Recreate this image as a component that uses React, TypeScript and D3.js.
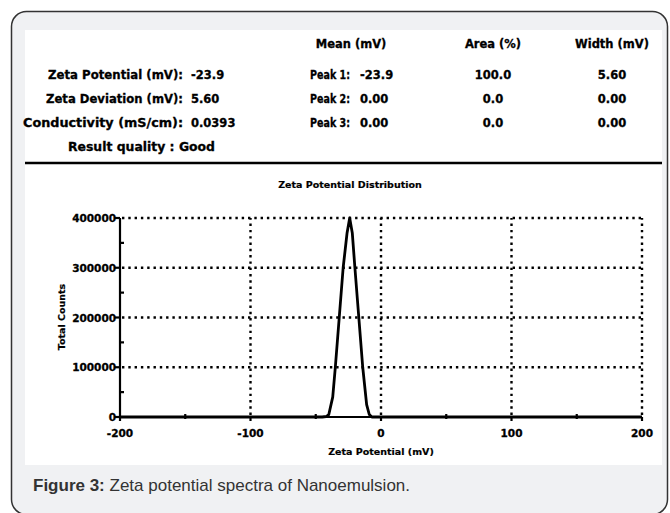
import React from "react";
import * as d3 from "d3";

// ---- Data ----
const zetaMv = [-200, -45, -42, -40, -37, -35, -32, -29, -26, -24, -22, -20, -17, -14, -11, -9, -7, 200];
const totalCounts = [0, 0, 1000, 5000, 40000, 100000, 200000, 300000, 370000, 400000, 370000, 300000, 200000, 100000, 25000, 5000, 0, 0];

const xMajorTicks = [-200, -100, 0, 100, 200];
const xMinorTicks = [-150, -50, 50, 150];
const yMajorTicks = [0, 100000, 200000, 300000, 400000];
const yMinorTicks = [50000, 150000, 250000, 350000];

const tableHeaders = ["Mean (mV)", "Area (%)", "Width (mV)"];
const summaryLabels = ["Zeta Potential (mV):", "Zeta Deviation (mV):", "Conductivity (mS/cm):"];
const summaryValues = ["-23.9", "5.60", "0.0393"];
const peakLabels = ["Peak 1:", "Peak 2:", "Peak 3:"];
const peakMeans = ["-23.9", "0.00", "0.00"];
const peakAreas = ["100.0", "0.0", "0.0"];
const peakWidths = ["5.60", "0.00", "0.00"];
const resultQuality = "Result quality : Good";

const chartTitle = "Zeta Potential Distribution";
const xTitle = "Zeta Potential (mV)";
const yTitle = "Total Counts";

const summaryLabelWidths = [135, 137, 160];

export default function App() {
  const x = d3.scaleLinear().domain([-200, 200]).range([120, 642]);
  const y = d3.scaleLinear().domain([0, 400000]).range([417, 218]);
  const line = d3
    .line<number>()
    .x((d, i) => x(zetaMv[i]))
    .y((d) => y(d));

  const bold = {
    fontFamily: "'DejaVu Sans', sans-serif",
    fontWeight: 700 as const,
    stroke: "#000",
    strokeWidth: 0.3,
  };
  const rowY = [79, 103, 127];
  const colX = [351, 493, 612];

  return (
    <svg
      width={670}
      height={513}
      style={{ position: "absolute", left: 0, top: 0, background: "#fff" }}
    >
      {/* outer card */}
      <rect x={11.5} y={11.5} width={656} height={503} rx={15} fill="#f0f1f3" stroke="#333" strokeWidth={1.5} />
      {/* white panel */}
      <rect x={25} y={30} width={637} height={435} fill="#fff" />

      {/* table */}
      <g {...bold} fill="#000" fontSize={11.5}>
        {tableHeaders.map((h, i) => (
          <text key={h} x={colX[i]} y={48} textAnchor="middle">{h}</text>
        ))}
        {summaryLabels.map((l, i) => (
          <text key={l} x={183} y={rowY[i]} textAnchor="end" textLength={summaryLabelWidths[i]} lengthAdjust="spacingAndGlyphs">{l}</text>
        ))}
        {summaryValues.map((v, i) => (
          <text key={"sv" + i} x={191} y={rowY[i]}>{v}</text>
        ))}
        {peakLabels.map((l, i) => (
          <text key={l} x={350} y={rowY[i]} textAnchor="end" textLength={40} lengthAdjust="spacingAndGlyphs">{l}</text>
        ))}
        {peakMeans.map((v, i) => (
          <text key={"pm" + i} x={360} y={rowY[i]}>{v}</text>
        ))}
        {peakAreas.map((v, i) => (
          <text key={"pa" + i} x={colX[1]} y={rowY[i]} textAnchor="middle">{v}</text>
        ))}
        {peakWidths.map((v, i) => (
          <text key={"pw" + i} x={colX[2]} y={rowY[i]} textAnchor="middle">{v}</text>
        ))}
        <text x={68} y={151} textLength={147} lengthAdjust="spacingAndGlyphs">{resultQuality}</text>
      </g>
      <line x1={25} x2={662} y1={163} y2={163} stroke="#000" strokeWidth={2.5} />

      {/* chart title */}
      <text x={350} y={188} textAnchor="middle" {...bold} strokeWidth={0.2} fontSize={9.5}>{chartTitle}</text>

      {/* grid */}
      <g stroke="#000" strokeWidth={2.4} strokeDasharray="2.4,3.9" fill="none">
        {yMajorTicks.slice(1).map((t) => (
          <line key={"gy" + t} x1={x(-200) + 2} x2={x(200)} y1={y(t)} y2={y(t)} />
        ))}
        {xMajorTicks.slice(1).map((t) => (
          <line key={"gx" + t} x1={x(t)} x2={x(t)} y1={y(0) - 2} y2={y(400000)} />
        ))}
      </g>

      {/* axes */}
      <g stroke="#000" strokeWidth={2.2} fill="none">
        <line x1={x(-200)} x2={x(200)} y1={y(0)} y2={y(0)} />
        <line x1={x(-200)} x2={x(-200)} y1={y(0)} y2={y(400000)} />
        {yMajorTicks.map((t) => (
          <line key={"ty" + t} x1={x(-200) - 5} x2={x(-200)} y1={y(t)} y2={y(t)} />
        ))}
        {yMinorTicks.map((t) => (
          <line key={"my" + t} x1={x(-200) - 1} x2={x(-200) + 4} y1={y(t)} y2={y(t)} />
        ))}
        {xMajorTicks.map((t) => (
          <line key={"tx" + t} x1={x(t)} x2={x(t)} y1={y(0)} y2={y(0) + 4} />
        ))}
        {xMinorTicks.map((t) => (
          <line key={"mx" + t} x1={x(t)} x2={x(t)} y1={y(0) - 3} y2={y(0) + 2} />
        ))}
      </g>

      {/* tick labels */}
      <g {...bold} fontSize={10.5} fill="#000">
        {yMajorTicks.map((t) => (
          <text key={"ly" + t} x={x(-200) - 4} y={y(t) + 4} textAnchor="end">{t}</text>
        ))}
        {xMajorTicks.map((t) => (
          <text key={"lx" + t} x={x(t)} y={437} textAnchor="middle">{t}</text>
        ))}
      </g>
      <text x={381} y={455} textAnchor="middle" {...bold} strokeWidth={0.2} fontSize={9.5}>{xTitle}</text>
      <text transform="translate(65,317) rotate(-90)" textAnchor="middle" {...bold} strokeWidth={0.2} fontSize={9.5}>{yTitle}</text>

      {/* data */}
      <path d={line(totalCounts) || ""} fill="none" stroke="#000" strokeWidth={2.8} strokeLinejoin="round" />

      {/* caption */}
      <text x={33} y={491} fontFamily="'Liberation Sans', Arial, sans-serif" fontSize={17} fill="#333">
        <tspan fontWeight={700}>Figure 3:</tspan>
        <tspan> Zeta potential spectra of Nanoemulsion.</tspan>
      </text>
    </svg>
  );
}
